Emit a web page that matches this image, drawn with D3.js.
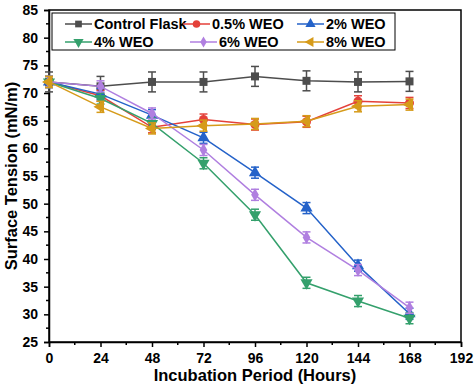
<!DOCTYPE html>
<html><head><meta charset="utf-8">
<script src="https://cdn.jsdelivr.net/npm/d3@7"></script>
<style>body{margin:0;background:#fff}svg{display:block}text{font-family:"Liberation Sans",Arial,sans-serif;font-weight:bold}</style>
</head><body><svg id="c" width="474" height="385"></svg>
<script>
const hours = [0, 24, 48, 72, 96, 120, 144, 168];
const xTicks = [0, 24, 48, 72, 96, 120, 144, 168, 192];
const yTicks = [25, 30, 35, 40, 45, 50, 55, 60, 65, 70, 75, 80, 85];
const seriesNames = ["Control Flask", "0.5% WEO", "2% WEO", "4% WEO", "6% WEO", "8% WEO"];
const control = [72.0, 71.2, 72.0, 72.0, 73.0, 72.2, 72.0, 72.1];
const weo05 = [72.0, 69.5, 63.8, 65.2, 64.3, 64.8, 68.5, 68.2];
const weo2 = [72.0, 69.8, 66.0, 61.9, 55.6, 49.2, 38.8, 30.1];
const weo4 = [72.0, 69.0, 64.5, 57.3, 48.0, 35.7, 32.4, 29.3];
const weo6 = [72.0, 71.2, 66.3, 59.7, 51.6, 43.9, 38.0, 31.2];
const weo8 = [72.0, 67.5, 63.6, 64.1, 64.4, 64.9, 67.6, 67.9];
const errControl = [1.8, 1.8, 1.8, 1.8, 1.8, 1.8, 1.8, 1.8];
const errWeo05 = [1.0, 1.0, 1.0, 1.0, 1.0, 1.0, 1.0, 1.0];
const errWeo2 = [1.0, 1.0, 1.0, 1.0, 1.0, 1.0, 1.0, 1.0];
const errWeo4 = [1.0, 1.0, 1.0, 1.0, 1.0, 1.0, 1.0, 1.0];
const errWeo6 = [1.0, 1.0, 1.0, 1.0, 1.0, 1.0, 1.0, 1.0];
const errWeo8 = [1.0, 1.0, 1.0, 1.0, 1.0, 1.0, 1.0, 1.0];
const colors = ["#4d4d4d", "#e4413a", "#2462c9", "#34a06c", "#b07fe0", "#d69b1a"];
const symbols = [d3.symbolSquare, d3.symbolCircle, "up", "down", d3.symbolDiamond, "left"];

const values = [control, weo05, weo2, weo4, weo6, weo8];
const errors = [errControl, errWeo05, errWeo2, errWeo4, errWeo6, errWeo8];

const svg = d3.select("#c");
const m = {l: 49, r: 461, t: 10, b: 342};
const x = d3.scaleLinear().domain([0, 192]).range([m.l, m.r]);
const y = d3.scaleLinear().domain([25, 85]).range([m.b, m.t]);

// frame
svg.append("rect").attr("x", m.l).attr("y", m.t).attr("width", m.r - m.l).attr("height", m.b - m.t)
  .attr("fill", "none").attr("stroke", "#000").attr("stroke-width", 1.5);

// x axis
const xa = svg.append("g").attr("transform", `translate(0,${m.b})`)
  .call(d3.axisBottom(x).tickValues(xTicks).tickSize(5).tickPadding(6).tickFormat(d3.format("d")));
xa.selectAll("text").attr("font-size", 14).attr("fill", "#000");
const xMinor = d3.range(12, 192, 24);
svg.append("g").selectAll("line").data(xMinor).join("line")
  .attr("x1", d => x(d)).attr("x2", d => x(d)).attr("y1", m.b).attr("y2", m.b + 3).attr("stroke", "#000").attr("stroke-width", 1.5);

// y axis
const ya = svg.append("g").attr("transform", `translate(${m.l},0)`)
  .call(d3.axisLeft(y).tickValues(yTicks).tickSize(5).tickPadding(6));
ya.selectAll("text").attr("font-size", 14).attr("fill", "#000");
const yMinor = d3.range(27.5, 85, 5);
svg.append("g").selectAll("line").data(yMinor).join("line")
  .attr("x1", m.l - 3).attr("x2", m.l).attr("y1", d => y(d)).attr("y2", d => y(d)).attr("stroke", "#000").attr("stroke-width", 1.5);
[xa, ya].forEach(a => { a.select(".domain").attr("stroke-width", 1.5); a.selectAll(".tick line").attr("stroke-width", 1.5); });

// titles
svg.append("text").attr("x", (m.l + m.r) / 2).attr("y", 381).attr("text-anchor", "middle").attr("font-size", 16.5).text("Incubation Period (Hours)");
svg.append("text").attr("transform", `translate(17,${(m.t + m.b) / 2}) rotate(-90)`).attr("text-anchor", "middle").attr("font-size", 16.5).text("Surface Tension (mN/m)");

function marker(g, type, color, size) {
  if (type === "up" || type === "down" || type === "left") {
    const rot = type === "up" ? 0 : type === "down" ? 180 : -90;
    g.append("path").attr("d", d3.symbol(d3.symbolTriangle, size)()).attr("transform", `rotate(${rot})`).attr("fill", color);
  } else {
    g.append("path").attr("d", d3.symbol(type, type === d3.symbolDiamond ? size * 0.8 : size)()).attr("fill", color);
  }
}

const line = d3.line().x((d, i) => x(hours[i])).y(d => y(d));
values.forEach((vals, s) => {
  const g = svg.append("g");
  g.append("path").datum(vals).attr("d", line).attr("fill", "none").attr("stroke", colors[s]).attr("stroke-width", 1.5);
  vals.forEach((v, i) => {
    const e = errors[s][i];
    const cx = x(hours[i]);
    g.append("line").attr("x1", cx).attr("x2", cx).attr("y1", y(v - e)).attr("y2", y(v + e)).attr("stroke", colors[s]).attr("stroke-width", 1.5);
    [v - e, v + e].forEach(w => g.append("line").attr("x1", cx - 4).attr("x2", cx + 4).attr("y1", y(w)).attr("y2", y(w)).attr("stroke", colors[s]).attr("stroke-width", 1.5));
    const mg = g.append("g").attr("transform", `translate(${cx},${y(v)})`);
    marker(mg, symbols[s], colors[s], 64);
  });
});

// legend
const lg = svg.append("g");
lg.append("rect").attr("x", 52).attr("y", 13).attr("width", 343).attr("height", 37).attr("fill", "#fff").attr("stroke", "#000").attr("stroke-width", 1);
const legPos = [[65, 24], [183, 24], [297, 24], [65, 42], [190, 42], [297, 42]];
seriesNames.forEach((n, s) => {
  const [lx, ly] = legPos[s];
  lg.append("line").attr("x1", lx).attr("x2", lx + 27).attr("y1", ly).attr("y2", ly).attr("stroke", colors[s]).attr("stroke-width", 1.5);
  const mg = lg.append("g").attr("transform", `translate(${lx + 13.5},${ly})`);
  marker(mg, symbols[s], colors[s], 45);
  lg.append("text").attr("x", lx + 29).attr("y", ly + 5).attr("font-size", 14.5).text(n);
});
</script></body></html>
